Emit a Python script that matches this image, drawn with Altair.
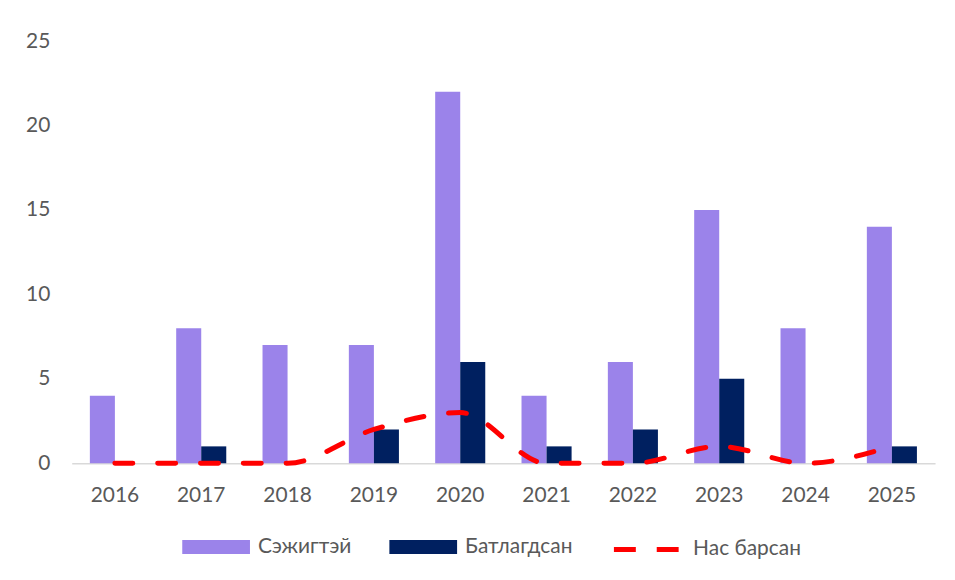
import altair as alt
import pandas as pd

years = ["2016", "2017", "2018", "2019", "2020", "2021", "2022", "2023", "2024", "2025"]
suspected = [4, 8, 7, 7, 22, 4, 6, 15, 8, 14]
confirmed = [0, 1, 0, 2, 6, 1, 2, 5, 0, 1]
deaths = [0, 0, 0, 2, 3, 0, 0, 1, 0, 1]

bar_series = ["Сэжигтэй", "Батлагдсан"]
line_series = "Нас барсан"
bar_colors = ["#9B83EA", "#002060"]
line_color = "#FF0000"

FONT = "Lato"
TXT = "#595959"
FS = 21

bars_df = pd.DataFrame(
    [{"year": y, "series": bar_series[0], "value": v} for y, v in zip(years, suspected)]
    + [{"year": y, "series": bar_series[1], "value": v} for y, v in zip(years, confirmed)]
)
line_df = pd.DataFrame({"year": years, "value": deaths, "series": [line_series] * len(years)})

x_enc = alt.X(
    "year:N",
    sort=years,
    scale=alt.Scale(paddingInner=0.42, paddingOuter=0.21),
    axis=alt.Axis(
        title=None, labelAngle=0, ticks=False, domainColor="#D9D9D9", domainWidth=1.5,
        labelPadding=21, labelFontSize=FS, labelColor=TXT, labelFont=FONT,
    ),
)
y_enc = alt.Y(
    "value:Q",
    scale=alt.Scale(domain=[0, 25], nice=False),
    axis=alt.Axis(
        title=None, values=[0, 5, 10, 15, 20, 25], grid=False, domain=False, ticks=False,
        labelPadding=22, labelFontSize=FS, labelColor=TXT, labelFont=FONT,
    ),
)

bars = alt.Chart(bars_df).mark_bar().encode(
    x=x_enc,
    y=y_enc,
    xOffset=alt.XOffset("series:N", sort=bar_series, scale=alt.Scale(paddingInner=0, paddingOuter=0)),
    color=alt.Color(
        "series:N",
        sort=bar_series,
        scale=alt.Scale(domain=bar_series, range=bar_colors),
        legend=alt.Legend(
            title=None, orient="none", legendX=111, legendY=474, direction="horizontal",
            symbolType="M-1,-0.206L1,-0.206L1,0.206L-1,0.206Z", symbolSize=4624,
            symbolStrokeWidth=0, labelFontSize=FS, labelColor=TXT, labelFont=FONT,
            labelOffset=8, columnPadding=38, padding=0,
        ),
    ),
)

line = alt.Chart(line_df).mark_line(
    strokeWidth=5, strokeDash=[18, 25], strokeCap="round", interpolate="monotone"
).encode(
    x=alt.X("year:N", sort=years),
    y=alt.Y("value:Q"),
    stroke=alt.Stroke(
        "series:N",
        scale=alt.Scale(domain=[line_series], range=[line_color]),
        legend=alt.Legend(
            title=None, orient="none", legendX=542, legendY=475.5, direction="horizontal",
            symbolType="stroke", symbolSize=4225, symbolStrokeWidth=5, symbolDash=[22, 21],
            labelFontSize=FS, labelColor=TXT, labelFont=FONT, labelOffset=12, padding=0,
        ),
    ),
)

chart = (
    alt.layer(bars, line)
    .resolve_scale(color="independent")
    .properties(
        width=867,
        height=424,
        autosize="none",
        padding={"left": 64, "top": 32, "right": 12, "bottom": 108},
    )
    .configure(background="white")
    .configure_view(stroke=None)
)

chart.save("out.html", embed_options={"renderer": "svg", "actions": False})
